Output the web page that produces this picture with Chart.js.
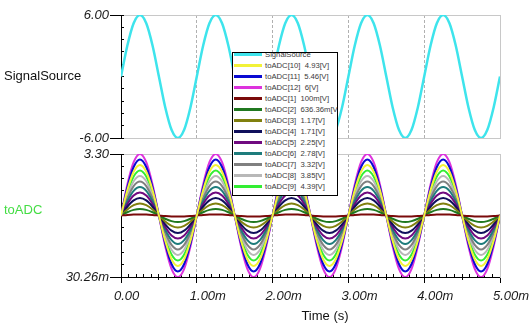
<!DOCTYPE html>
<html>
<head>
<meta charset="utf-8">
<title>SignalSource / toADC</title>
<script src="https://cdn.jsdelivr.net/npm/chart.js@4.4.1/dist/chart.umd.min.js"></script>
<style>
  html, body { margin: 0; padding: 0; background: #ffffff; }
  #stage { position: relative; width: 530px; height: 335px; overflow: hidden; font-family: "Liberation Sans", Arial, sans-serif; }
  .pane { position: absolute; left: 0; width: 530px; }
  #paneTop { top: 0; height: 147px; }
  #paneBottom { top: 145px; height: 190px; }
  .rowLabel { position: absolute; left: 4px; font-size: 13px; line-height: 16px; white-space: nowrap; }
  #labelTop { top: 68px; color: #111111; }
  #labelBottom { top: 202px; color: #44dd44; }
  #axisTitle { position: absolute; top: 308px; left: 275px; width: 100px; text-align: center; font-size: 13px; line-height: 16px; color: #111111; }
  #legend { position: absolute; left: 232px; top: 52px; width: 104px; height: 142px; border: 1px solid #000; background: #fff; overflow: hidden; z-index: 5; }
  #legendRows { position: absolute; left: 0; top: -4px; }
  .lgRow { position: relative; height: 11px; width: 104px; }
  .lgLine { position: absolute; left: 1px; top: 4px; width: 28px; height: 3px; }
  .lgText { position: absolute; left: 32px; top: 0; font-size: 7.7px; line-height: 11px; color: #3a3a3a; white-space: pre; }
</style>
</head>
<body>
<div id="stage">
  <div class="pane" id="paneTop"><canvas id="chartTop"></canvas></div>
  <div class="pane" id="paneBottom"><canvas id="chartBottom"></canvas></div>
  <div class="rowLabel" id="labelTop">SignalSource</div>
  <div class="rowLabel" id="labelBottom">toADC</div>
  <div id="axisTitle">Time (s)</div>
  <div id="legend"><div id="legendRows"></div></div>
</div>
<script>
// Sample instants in ms
const timeMs = [
  0,0.0833,0.1667,0.25,0.3333,0.4167,0.5,0.5833,0.6667,0.75,0.8333,0.9167,
  1,1.0833,1.1667,1.25,1.3333,1.4167,1.5,1.5833,1.6667,1.75,1.8333,1.9167,
  2,2.0833,2.1667,2.25,2.3333,2.4167,2.5,2.5833,2.6667,2.75,2.8333,2.9167,
  3,3.0833,3.1667,3.25,3.3333,3.4167,3.5,3.5833,3.6667,3.75,3.8333,3.9167,
  4,4.0833,4.1667,4.25,4.3333,4.4167,4.5,4.5833,4.6667,4.75,4.8333,4.9167,
  5
];

// Source waveform (V)
const signalSource = [
  0,3,5.196,6,5.196,3,0,-3,-5.196,-6,-5.196,-3,
  0,3,5.196,6,5.196,3,0,-3,-5.196,-6,-5.196,-3,
  0,3,5.196,6,5.196,3,0,-3,-5.196,-6,-5.196,-3,
  0,3,5.196,6,5.196,3,0,-3,-5.196,-6,-5.196,-3,
  0,3,5.196,6,5.196,3,0,-3,-5.196,-6,-5.196,-3,
  0
];

// ADC input for each source amplitude (V)
const toADC1 = [
  1.665,1.679,1.689,1.692,1.689,1.679,1.665,1.651,1.641,1.638,1.641,1.651,
  1.665,1.679,1.689,1.692,1.689,1.679,1.665,1.651,1.641,1.638,1.641,1.651,
  1.665,1.679,1.689,1.692,1.689,1.679,1.665,1.651,1.641,1.638,1.641,1.651,
  1.665,1.679,1.689,1.692,1.689,1.679,1.665,1.651,1.641,1.638,1.641,1.651,
  1.665,1.679,1.689,1.692,1.689,1.679,1.665,1.651,1.641,1.638,1.641,1.651,
  1.665
];
const toADC2 = [
  1.665,1.752,1.815,1.838,1.815,1.752,1.665,1.578,1.515,1.492,1.515,1.578,
  1.665,1.752,1.815,1.838,1.815,1.752,1.665,1.578,1.515,1.492,1.515,1.578,
  1.665,1.752,1.815,1.838,1.815,1.752,1.665,1.578,1.515,1.492,1.515,1.578,
  1.665,1.752,1.815,1.838,1.815,1.752,1.665,1.578,1.515,1.492,1.515,1.578,
  1.665,1.752,1.815,1.838,1.815,1.752,1.665,1.578,1.515,1.492,1.515,1.578,
  1.665
];
const toADC3 = [
  1.665,1.825,1.942,1.985,1.942,1.825,1.665,1.505,1.388,1.345,1.388,1.505,
  1.665,1.825,1.942,1.985,1.942,1.825,1.665,1.505,1.388,1.345,1.388,1.505,
  1.665,1.825,1.942,1.985,1.942,1.825,1.665,1.505,1.388,1.345,1.388,1.505,
  1.665,1.825,1.942,1.985,1.942,1.825,1.665,1.505,1.388,1.345,1.388,1.505,
  1.665,1.825,1.942,1.985,1.942,1.825,1.665,1.505,1.388,1.345,1.388,1.505,
  1.665
];
const toADC4 = [
  1.665,1.898,2.068,2.131,2.068,1.898,1.665,1.432,1.262,1.199,1.262,1.432,
  1.665,1.898,2.068,2.131,2.068,1.898,1.665,1.432,1.262,1.199,1.262,1.432,
  1.665,1.898,2.068,2.131,2.068,1.898,1.665,1.432,1.262,1.199,1.262,1.432,
  1.665,1.898,2.068,2.131,2.068,1.898,1.665,1.432,1.262,1.199,1.262,1.432,
  1.665,1.898,2.068,2.131,2.068,1.898,1.665,1.432,1.262,1.199,1.262,1.432,
  1.665
];
const toADC5 = [
  1.665,1.971,2.195,2.277,2.195,1.971,1.665,1.359,1.135,1.053,1.135,1.359,
  1.665,1.971,2.195,2.277,2.195,1.971,1.665,1.359,1.135,1.053,1.135,1.359,
  1.665,1.971,2.195,2.277,2.195,1.971,1.665,1.359,1.135,1.053,1.135,1.359,
  1.665,1.971,2.195,2.277,2.195,1.971,1.665,1.359,1.135,1.053,1.135,1.359,
  1.665,1.971,2.195,2.277,2.195,1.971,1.665,1.359,1.135,1.053,1.135,1.359,
  1.665
];
const toADC6 = [
  1.665,2.044,2.322,2.423,2.322,2.044,1.665,1.286,1.009,0.907,1.009,1.286,
  1.665,2.044,2.322,2.423,2.322,2.044,1.665,1.286,1.009,0.907,1.009,1.286,
  1.665,2.044,2.322,2.423,2.322,2.044,1.665,1.286,1.009,0.907,1.009,1.286,
  1.665,2.044,2.322,2.423,2.322,2.044,1.665,1.286,1.009,0.907,1.009,1.286,
  1.665,2.044,2.322,2.423,2.322,2.044,1.665,1.286,1.009,0.907,1.009,1.286,
  1.665
];
const toADC7 = [
  1.665,2.117,2.448,2.569,2.448,2.117,1.665,1.213,0.882,0.761,0.882,1.213,
  1.665,2.117,2.448,2.569,2.448,2.117,1.665,1.213,0.882,0.761,0.882,1.213,
  1.665,2.117,2.448,2.569,2.448,2.117,1.665,1.213,0.882,0.761,0.882,1.213,
  1.665,2.117,2.448,2.569,2.448,2.117,1.665,1.213,0.882,0.761,0.882,1.213,
  1.665,2.117,2.448,2.569,2.448,2.117,1.665,1.213,0.882,0.761,0.882,1.213,
  1.665
];
const toADC8 = [
  1.665,2.190,2.575,2.715,2.575,2.190,1.665,1.140,0.755,0.615,0.755,1.140,
  1.665,2.190,2.575,2.715,2.575,2.190,1.665,1.140,0.755,0.615,0.755,1.140,
  1.665,2.190,2.575,2.715,2.575,2.190,1.665,1.140,0.755,0.615,0.755,1.140,
  1.665,2.190,2.575,2.715,2.575,2.190,1.665,1.140,0.755,0.615,0.755,1.140,
  1.665,2.190,2.575,2.715,2.575,2.190,1.665,1.140,0.755,0.615,0.755,1.140,
  1.665
];
const toADC9 = [
  1.665,2.263,2.701,2.862,2.701,2.263,1.665,1.067,0.629,0.469,0.629,1.067,
  1.665,2.263,2.701,2.862,2.701,2.263,1.665,1.067,0.629,0.469,0.629,1.067,
  1.665,2.263,2.701,2.862,2.701,2.263,1.665,1.067,0.629,0.469,0.629,1.067,
  1.665,2.263,2.701,2.862,2.701,2.263,1.665,1.067,0.629,0.469,0.629,1.067,
  1.665,2.263,2.701,2.862,2.701,2.263,1.665,1.067,0.629,0.469,0.629,1.067,
  1.665
];
const toADC10 = [
  1.665,2.336,2.828,3.008,2.828,2.336,1.665,0.994,0.502,0.322,0.502,0.994,
  1.665,2.336,2.828,3.008,2.828,2.336,1.665,0.994,0.502,0.322,0.502,0.994,
  1.665,2.336,2.828,3.008,2.828,2.336,1.665,0.994,0.502,0.322,0.502,0.994,
  1.665,2.336,2.828,3.008,2.828,2.336,1.665,0.994,0.502,0.322,0.502,0.994,
  1.665,2.336,2.828,3.008,2.828,2.336,1.665,0.994,0.502,0.322,0.502,0.994,
  1.665
];
const toADC11 = [
  1.665,2.409,2.954,3.154,2.954,2.409,1.665,0.921,0.376,0.176,0.376,0.921,
  1.665,2.409,2.954,3.154,2.954,2.409,1.665,0.921,0.376,0.176,0.376,0.921,
  1.665,2.409,2.954,3.154,2.954,2.409,1.665,0.921,0.376,0.176,0.376,0.921,
  1.665,2.409,2.954,3.154,2.954,2.409,1.665,0.921,0.376,0.176,0.376,0.921,
  1.665,2.409,2.954,3.154,2.954,2.409,1.665,0.921,0.376,0.176,0.376,0.921,
  1.665
];
const toADC12 = [
  1.665,2.483,3.081,3.300,3.081,2.483,1.665,0.848,0.249,0.030,0.249,0.848,
  1.665,2.483,3.081,3.300,3.081,2.483,1.665,0.848,0.249,0.030,0.249,0.848,
  1.665,2.483,3.081,3.300,3.081,2.483,1.665,0.848,0.249,0.030,0.249,0.848,
  1.665,2.483,3.081,3.300,3.081,2.483,1.665,0.848,0.249,0.030,0.249,0.848,
  1.665,2.483,3.081,3.300,3.081,2.483,1.665,0.848,0.249,0.030,0.249,0.848,
  1.665
];

// Legend entries, in listing order
const seriesNames = ['SignalSource','toADC[10]','toADC[11]','toADC[12]','toADC[1]','toADC[2]','toADC[3]','toADC[4]','toADC[5]','toADC[6]','toADC[7]','toADC[8]','toADC[9]'];
const seriesNotes = ['','4.93[V]','5.46[V]','6[V]','100m[V]','636.36m[V]','1.17[V]','1.71[V]','2.25[V]','2.78[V]','3.32[V]','3.85[V]','4.39[V]'];

// Axis ticks
const topTickValues = [-6, 6];
const topTickLabels = ['-6.00', '6.00'];
const topMinorTicks = [-6, -4.8, -3.6, -2.4, -1.2, 0, 1.2, 2.4, 3.6, 4.8, 6];
const bottomTickValues = [0.03026, 3.3];
const bottomTickLabels = ['30.26m', '3.30'];
const bottomMinorTicks = [0.03026, 0.35723, 0.6842, 1.01117, 1.33814, 1.66513, 1.9921, 2.31907, 2.64604, 2.97301, 3.3];
const timeTickValues = [0, 1, 2, 3, 4, 5];
const timeTickLabels = ['0.00', '1.00m', '2.00m', '3.00m', '4.00m', '5.00m'];
const timeHalfTicks = [0.5, 1.5, 2.5, 3.5, 4.5];
const timeMinorTicks = [0,0.1,0.2,0.3,0.4,0.5,0.6,0.7,0.8,0.9,1,1.1,1.2,1.3,1.4,1.5,1.6,1.7,1.8,1.9,2,2.1,2.2,2.3,2.4,2.5,2.6,2.7,2.8,2.9,3,3.1,3.2,3.3,3.4,3.5,3.6,3.7,3.8,3.9,4,4.1,4.2,4.3,4.4,4.5,4.6,4.7,4.8,4.9,5];

// Line styles
const lineColors = {
  'SignalSource': '#3ee4ec',
  'toADC[10]': '#f2f238',
  'toADC[11]': '#0a0ad2',
  'toADC[12]': '#dd33dd',
  'toADC[1]':  '#7a0a0a',
  'toADC[2]':  '#207820',
  'toADC[3]':  '#80800e',
  'toADC[4]':  '#10105c',
  'toADC[5]':  '#700a80',
  'toADC[6]':  '#1e7c7c',
  'toADC[7]':  '#808080',
  'toADC[8]':  '#b8b8b8',
  'toADC[9]':  '#33ee33'
};
const adcSeries = {
  'toADC[1]': toADC1, 'toADC[2]': toADC2, 'toADC[3]': toADC3, 'toADC[4]': toADC4,
  'toADC[5]': toADC5, 'toADC[6]': toADC6, 'toADC[7]': toADC7, 'toADC[8]': toADC8,
  'toADC[9]': toADC9, 'toADC[10]': toADC10, 'toADC[11]': toADC11, 'toADC[12]': toADC12
};

const FONT = '"Liberation Sans", Arial, sans-serif';
const gridGray = '#c8c8c8';
const dashGray = '#b0b0b0';
const innerGridColor = c => (c.tick && c.tick.value > 0 && c.tick.value < 5) ? dashGray : 'rgba(0,0,0,0)';

function fixedTicks(values) {
  return s => { s.ticks = values.map(v => ({ value: v })); };
}

// Labelled value axis (ticks only at the ends)
function valueAxis(min, max, values, labels) {
  return {
    type: 'linear', position: 'left', min, max, weight: 1,
    afterBuildTicks: fixedTicks(values),
    ticks: { callback: (v, i) => labels[i], font: { family: FONT, size: 13, style: 'italic' }, color: '#1a1a1a', padding: 1 },
    grid: { color: gridGray, lineWidth: 1, tickColor: '#000', tickLength: 11, drawTicks: true },
    border: { display: true, color: '#000', width: 1 },
    afterFit: s => { s.width = 121; }
  };
}

// Unlabelled tick-mark axis of zero size
function markAxis(position, min, max, values, len, weight) {
  return {
    type: 'linear', position, min, max, weight,
    afterBuildTicks: fixedTicks(values),
    ticks: { display: false },
    grid: { drawOnChartArea: false, drawTicks: true, tickLength: len, tickColor: '#000', tickWidth: 1 },
    border: { display: false },
    afterFit: s => { if (s.isHorizontal()) { s.height = 0; } else { s.width = 0; } }
  };
}

function rightFrame(min, max) {
  return {
    type: 'linear', position: 'right', min, max,
    ticks: { display: false },
    grid: { display: false },
    border: { display: true, color: gridGray, width: 1 },
    afterFit: s => { s.width = 0; }
  };
}

const common = {
  responsive: true, maintainAspectRatio: false, animation: false, events: [],
  plugins: { legend: { display: false }, tooltip: { enabled: false } }
};

// Upper panel: source signal
new Chart(document.getElementById('chartTop'), {
  type: 'line',
  data: {
    labels: timeMs,
    datasets: [{
      label: 'SignalSource', data: signalSource, borderColor: lineColors['SignalSource'],
      borderWidth: 2.5, pointRadius: 0, cubicInterpolationMode: 'monotone', xAxisID: 'x', yAxisID: 'y'
    }]
  },
  options: Object.assign({}, common, {
    layout: { padding: { top: 15, right: 30, bottom: 9, left: 0 } },
    scales: {
      x: {
        type: 'linear', position: 'bottom', min: 0, max: 5,
        afterBuildTicks: fixedTicks(timeTickValues),
        ticks: { display: false },
        grid: { color: innerGridColor, drawTicks: false },
        border: { display: false, dash: [3, 2] },
        afterFit: s => { s.height = 0; }
      },
      y: valueAxis(-6, 6, topTickValues, topTickLabels),
      yMinor: markAxis('left', -6, 6, topMinorTicks, -3, 0),
      yRight: rightFrame(-6, 6)
    }
  })
});

// Lower panel: ADC inputs
const adcDatasets = seriesNames.slice(1).map(name => ({
  label: name, data: adcSeries[name], borderColor: lineColors[name],
  borderWidth: 2, pointRadius: 0, cubicInterpolationMode: 'monotone', xAxisID: 'x', yAxisID: 'y'
}));

new Chart(document.getElementById('chartBottom'), {
  type: 'line',
  data: { labels: timeMs, datasets: adcDatasets },
  options: Object.assign({}, common, {
    layout: { padding: { top: 9, right: 30, bottom: 0, left: 0 } },
    scales: {
      x: {
        type: 'linear', position: 'bottom', min: 0, max: 5, weight: 2,
        afterBuildTicks: fixedTicks(timeTickValues),
        ticks: {
          callback: (v, i) => timeTickLabels[i], align: 'start', labelOffset: -7, padding: 6,
          maxRotation: 0, minRotation: 0, autoSkip: false,
          font: { family: FONT, size: 13, style: 'italic' }, color: '#1a1a1a'
        },
        grid: { color: innerGridColor, tickColor: '#000', tickLength: 6, drawTicks: true },
        border: { display: true, color: '#000', width: 1, dash: [3, 2] },
        afterFit: s => { s.height = 58; s.paddingLeft = 0; s.paddingRight = 0; }
      },
      xHalf: markAxis('bottom', 0, 5, timeHalfTicks, 3, 1),
      xMinor: markAxis('bottom', 0, 5, timeMinorTicks, -3, 0),
      y: valueAxis(0.03026, 3.3, bottomTickValues, bottomTickLabels),
      yMinor: markAxis('left', 0.03026, 3.3, bottomMinorTicks, -3, 0),
      yRight: rightFrame(0.03026, 3.3)
    }
  })
});

// Legend box
const rows = document.getElementById('legendRows');
seriesNames.forEach((name, i) => {
  const row = document.createElement('div');
  row.className = 'lgRow';
  const line = document.createElement('div');
  line.className = 'lgLine';
  line.style.background = lineColors[name];
  const text = document.createElement('div');
  text.className = 'lgText';
  text.textContent = seriesNotes[i] ? name + '  ' + seriesNotes[i] : name;
  row.appendChild(line);
  row.appendChild(text);
  rows.appendChild(row);
});
</script>
</body>
</html>
